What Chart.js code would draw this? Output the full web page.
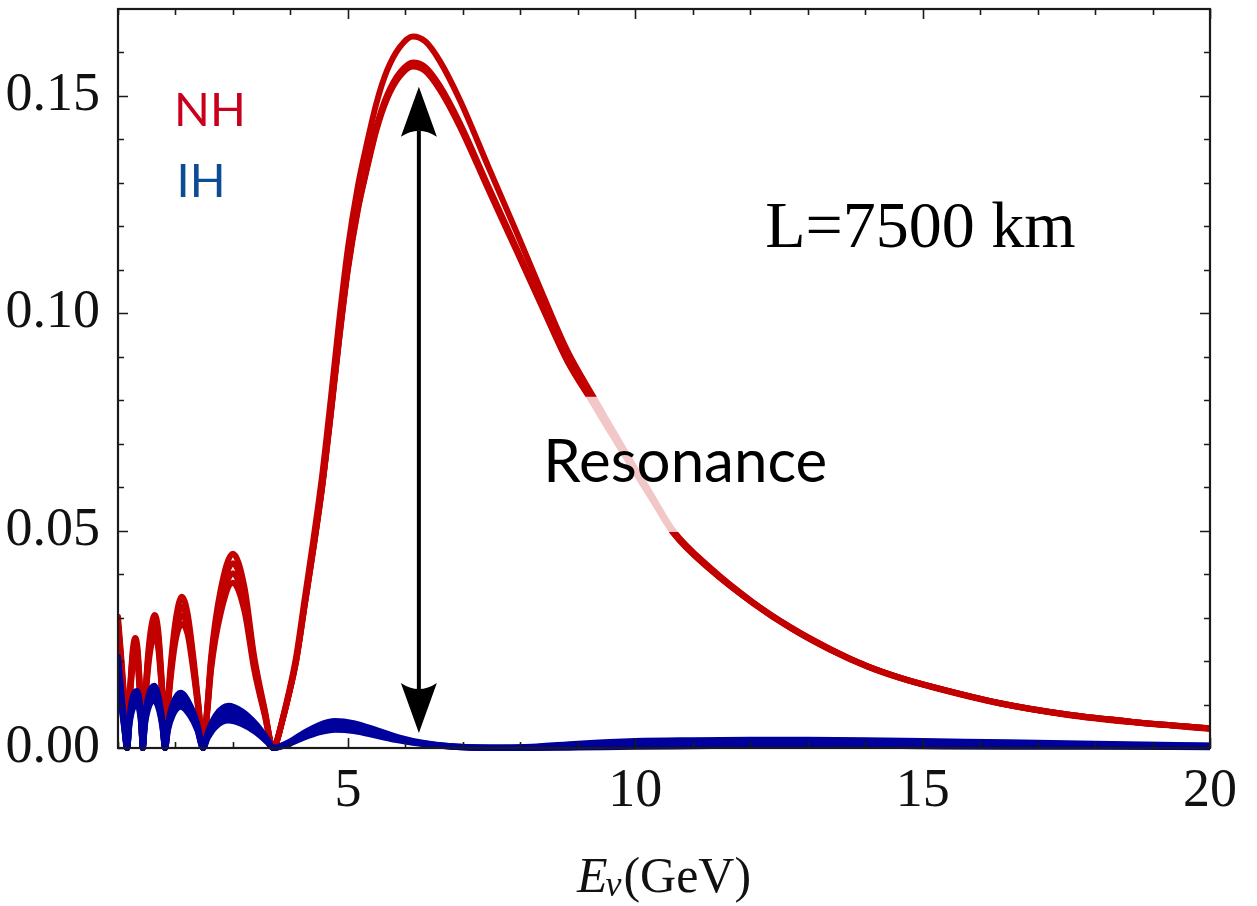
<!DOCTYPE html>
<html><head><meta charset="utf-8">
<script src="https://cdn.jsdelivr.net/npm/chart.js@4.4.0/dist/chart.umd.min.js"></script>
<style>html,body{margin:0;padding:0;background:#fff;}#wrap{width:1257px;height:906px;}</style>
</head><body><div id="wrap"><canvas id="c" width="1257" height="906"></canvas></div>
<script>
// ---- data ----
const E_NH = [1.00,1.05,1.10,1.16,1.19,1.23,1.26,1.30,1.34,1.37,1.40,1.43,
  1.47,1.52,1.58,1.64,1.70,1.75,1.79,1.82,
  1.87,1.93,2.01,2.11,2.21,2.31,2.40,2.48,
  2.55,2.62,2.78,3.00,3.20,3.37,3.55,3.70,
  3.76,3.85,3.95,4.10,
  4.25,4.40,4.55,4.70,4.85,5.00,5.17,5.33,5.50,5.68,5.90,6.13,6.35,6.60,6.95,7.45,7.94,8.40,8.81,9.27,9.90,10.30,10.66,
  11.30,12.05,12.70,13.39,14.04,14.60,15.19,16.35,17.52,18.67,20.00];
const NH_1 = [0.0302,0.0220,0.0130,0,0.0090,0.0180,0.0230,0.0253,0.0230,0.0170,0.0090,0,
  0.0110,0.0210,0.0280,0.0306,0.0270,0.0180,0.0090,0,
  0.0110,0.0210,0.0300,0.0348,0.0310,0.0210,0.0100,0,
  0.0090,0.0210,0.0360,0.0447,0.0370,0.0210,0.0090,0,
  0.0015,0.0060,0.0115,0.0210,
  0.0345,0.0480,0.0625,0.0800,0.0985,0.1150,0.1290,0.1390,0.1485,0.1558,0.1612,0.1637,0.1625,0.1580,0.1490,0.1335,0.1185,0.1040,0.0916,0.0808,0.0665,0.0578,0.0500,
  0.0415,0.0335,0.0278,0.0228,0.0188,0.0162,0.0140,0.0103,0.0077,0.0060,0.0045];
const NH_2 = [0.0290,0.0211,0.0125,0,0.0086,0.0172,0.0220,0.0240,0.0220,0.0163,0.0086,0,
  0.0105,0.0200,0.0266,0.0290,0.0257,0.0171,0.0086,0,
  0.0104,0.0199,0.0284,0.0325,0.0294,0.0199,0.0095,0,
  0.0086,0.0200,0.0343,0.0425,0.0352,0.0200,0.0086,0,
  0.0014,0.0058,0.0111,0.0202,
  0.0332,0.0462,0.0601,0.0770,0.0949,0.1108,0.1243,0.1339,0.1431,0.1501,0.1553,0.1577,0.1566,0.1523,0.1437,0.1290,0.1148,0.1013,0.0896,0.0794,0.0657,0.0573,0.0497,
  0.0413,0.0334,0.0277,0.0227,0.0188,0.0162,0.0140,0.0103,0.0077,0.0060,0.0045];
const NH_3 = [0.0280,0.0203,0.0120,0,0.0081,0.0163,0.0208,0.0230,0.0208,0.0154,0.0081,0,
  0.0099,0.0189,0.0252,0.0275,0.0243,0.0162,0.0081,0,
  0.0098,0.0188,0.0268,0.0305,0.0278,0.0188,0.0090,0,
  0.0081,0.0190,0.0325,0.0402,0.0333,0.0190,0.0081,0,
  0.0014,0.0058,0.0110,0.0201,
  0.0331,0.0460,0.0599,0.0767,0.0945,0.1104,0.1239,0.1335,0.1427,0.1497,0.1549,0.1572,0.1561,0.1518,0.1433,0.1287,0.1145,0.1011,0.0894,0.0793,0.0656,0.0572,0.0496,
  0.0412,0.0334,0.0277,0.0227,0.0188,0.0162,0.0140,0.0103,0.0077,0.0060,0.0045];
const NH_4 = [0.0270,0.0195,0.0115,0,0.0077,0.0154,0.0197,0.0220,0.0197,0.0145,0.0077,0,
  0.0094,0.0178,0.0238,0.0260,0.0230,0.0153,0.0077,0,
  0.0093,0.0177,0.0253,0.0285,0.0263,0.0178,0.0085,0,
  0.0077,0.0180,0.0306,0.0380,0.0315,0.0180,0.0077,0,
  0.0014,0.0057,0.0110,0.0200,
  0.0329,0.0458,0.0597,0.0764,0.0941,0.1100,0.1235,0.1331,0.1423,0.1493,0.1545,0.1568,0.1557,0.1514,0.1429,0.1283,0.1142,0.1009,0.0892,0.0792,0.0655,0.0571,0.0495,
  0.0411,0.0333,0.0276,0.0226,0.0187,0.0161,0.0139,0.0102,0.0076,0.0059,0.0044];

const E_IH = [1.00,1.05,1.10,1.16,
  1.20,1.25,1.33,1.38,1.41,1.43,
  1.47,1.53,1.63,1.71,1.77,1.82,
  1.87,1.95,2.09,2.25,2.38,2.48,
  2.56,2.70,2.92,3.15,3.40,3.60,3.70,
  3.95,4.20,4.50,4.78,5.10,5.50,5.90,6.30,6.80,7.50,8.20,9.00,10.00,11.00,12.00,13.00,14.00,15.00,16.50,18.00,20.00];
const IH_1 = [0.0210,0.0140,0.0070,0,
  0.0070,0.0115,0.0131,0.0105,0.0055,0,
  0.0070,0.0120,0.0143,0.0115,0.0065,0,
  0.0055,0.0100,0.0127,0.0100,0.0055,0,
  0.0035,0.0075,0.0097,0.0085,0.0055,0.0020,0,
  0.0012,0.0032,0.0053,0.0062,0.0057,0.0041,0.0024,0.0012,0.0004,0.0001,0.0003,0.0010,0.0016,0.0018,0.0019,0.0019,0.0018,0.0016,0.0013,0.0010,0.0006];
const IH_2 = [0.0195,0.0128,0.0064,0,
  0.0064,0.0105,0.0120,0.0096,0.0050,0,
  0.0064,0.0109,0.0130,0.0105,0.0059,0,
  0.0050,0.0091,0.0115,0.0091,0.0050,0,
  0.0031,0.0066,0.0085,0.0075,0.0048,0.0018,0,
  0.0010,0.0028,0.0047,0.0055,0.0050,0.0036,0.0021,0.0011,0.0004,0.0001,0.0002,0.0007,0.0012,0.0014,0.0015,0.0015,0.0014,0.0013,0.0010,0.0008,0.0005];
const IH_3 = [0.0180,0.0117,0.0058,0,
  0.0058,0.0096,0.0110,0.0088,0.0046,0,
  0.0059,0.0100,0.0120,0.0097,0.0054,0,
  0.0045,0.0083,0.0105,0.0083,0.0045,0,
  0.0027,0.0057,0.0074,0.0065,0.0042,0.0015,0,
  0.0009,0.0025,0.0041,0.0048,0.0044,0.0032,0.0019,0.0010,0.0003,0.0000,0.0001,0.0004,0.0007,0.0009,0.0010,0.0010,0.0009,0.0008,0.0007,0.0005,0.0003];
const IH_4 = [0.0165,0.0107,0.0053,0,
  0.0053,0.0087,0.0100,0.0080,0.0042,0,
  0.0054,0.0092,0.0110,0.0089,0.0050,0,
  0.0041,0.0075,0.0095,0.0075,0.0041,0,
  0.0023,0.0049,0.0063,0.0055,0.0036,0.0013,0,
  0.0008,0.0022,0.0036,0.0042,0.0039,0.0028,0.0017,0.0009,0.0003,0.0000,0.0000,0.0001,0.0003,0.0004,0.0005,0.0005,0.0005,0.0004,0.0003,0.0003,0.0002];

const X_TICKS = [5, 10, 15, 20];
const X_MINOR = [1,2,3,4,5,6,7,8,9,10,11,12,13,14,15,16,17,18,19,20];
const Y_TICKS = [0, 0.05, 0.10, 0.15];
const Y_MINOR = [0,0.01,0.02,0.03,0.04,0.05,0.06,0.07,0.08,0.09,0.10,0.11,0.12,0.13,0.14,0.15,0.16];
const X_RANGE = [1, 20];
const Y_RANGE = [0, 0.17];

// annotations (data coordinates)
const ARROW = {x: 6.235, yTop: 0.1521, yBottom: 0.00345};
const RES_BOX = {x0: 8.3, x1: 13.5, y0: 0.0497, y1: 0.0808};
const RES_TEXT = {text: 'Resonance', x: 10.87, y: 0.0656};
const L_TEXT = {text: 'L=7500 km', x: 14.96, y: 0.1153};
const NH_LABEL = {text: 'NH', x: 1.975, y: 0.1430};
const IH_LABEL = {text: 'IH', x: 2.02, y: 0.1268};

const RED = '#c20000', BLUE = '#00009c';

function series(xs, ys){
  if (xs.length !== ys.length) console.error('length mismatch', xs.length, ys.length);
  return xs.map((x,i)=>({x:x, y:ys[i]}));
}
function ds(xs, ys, color, order){
  return {data: series(xs, ys), borderColor: color, borderWidth: 6, pointRadius: 0,
    cubicInterpolationMode: 'monotone', fill: false, order: order,
    borderCapStyle: 'round', borderJoinStyle: 'round', clip: {left:0, right:0, top:0, bottom:3}};
}

const annot = {
  id: 'annot',
  afterDatasetsDraw(chart){
    const {ctx, scales:{x, y}} = chart;
    ctx.save();
    const bx0 = x.getPixelForValue(RES_BOX.x0), bx1 = x.getPixelForValue(RES_BOX.x1);
    const by0 = y.getPixelForValue(RES_BOX.y1), by1 = y.getPixelForValue(RES_BOX.y0);
    ctx.fillStyle = 'rgba(255,255,255,0.78)';
    ctx.fillRect(bx0, by0, bx1-bx0, by1-by0);
    ctx.fillStyle = '#000';
    ctx.font = '60px Lato';
    ctx.textAlign = 'center'; ctx.textBaseline = 'middle';
    ctx.fillText(RES_TEXT.text, x.getPixelForValue(RES_TEXT.x), y.getPixelForValue(RES_TEXT.y));
    ctx.font = '66px "Liberation Serif"';
    ctx.textBaseline = 'alphabetic';
    ctx.fillText(L_TEXT.text, x.getPixelForValue(L_TEXT.x), y.getPixelForValue(L_TEXT.y));
    ctx.textAlign = 'left';
    ctx.font = '47px Lato';
    ctx.fillStyle = '#c8001e';
    ctx.fillText(NH_LABEL.text, x.getPixelForValue(NH_LABEL.x), y.getPixelForValue(NH_LABEL.y));
    ctx.fillStyle = '#0b4c94';
    ctx.fillText(IH_LABEL.text, x.getPixelForValue(IH_LABEL.x), y.getPixelForValue(IH_LABEL.y));
    const ax = x.getPixelForValue(ARROW.x);
    const at = y.getPixelForValue(ARROW.yTop), ab = y.getPixelForValue(ARROW.yBottom);
    const hl = 50, hw = 18, notch = 6;
    ctx.strokeStyle = '#000'; ctx.fillStyle = '#000'; ctx.lineWidth = 4;
    ctx.beginPath(); ctx.moveTo(ax, at + hl - notch); ctx.lineTo(ax, ab - hl + notch); ctx.stroke();
    ctx.beginPath();
    ctx.moveTo(ax, at); ctx.lineTo(ax - hw, at + hl);
    ctx.quadraticCurveTo(ax, at + hl - 2*notch, ax + hw, at + hl); ctx.closePath(); ctx.fill();
    ctx.beginPath();
    ctx.moveTo(ax, ab); ctx.lineTo(ax - hw, ab - hl);
    ctx.quadraticCurveTo(ax, ab - hl + 2*notch, ax + hw, ab - hl); ctx.closePath(); ctx.fill();
    ctx.restore();
  },
  afterDraw(chart){
    const {ctx, chartArea:a, scales:{x, y}} = chart;
    ctx.save();
    ctx.strokeStyle = '#1a1a1a'; ctx.lineWidth = 1.6;
    ctx.beginPath();
    X_MINOR.forEach(v => {
      const px = Math.round(x.getPixelForValue(v)) + 0.5;
      const len = X_TICKS.includes(v) ? 10 : 6;
      ctx.moveTo(px, a.bottom); ctx.lineTo(px, a.bottom - len);
      ctx.moveTo(px, a.top); ctx.lineTo(px, a.top + len);
    });
    Y_MINOR.forEach(v => {
      const py = Math.round(y.getPixelForValue(v)) + 0.5;
      const len = Y_TICKS.some(t => Math.abs(t - v) < 1e-9) ? 10 : 6;
      ctx.moveTo(a.left, py); ctx.lineTo(a.left + len, py);
      ctx.moveTo(a.right, py); ctx.lineTo(a.right - len, py);
    });
    ctx.stroke();
    ctx.lineWidth = 2.2;
    ctx.strokeRect(a.left, a.top, a.right - a.left, a.bottom - a.top);
    const cx = (a.left + a.right) / 2, base = 892;
    const fMain = '50px "Liberation Serif"', fIt = 'italic 50px "Liberation Serif"', fSub = 'italic 36px "Liberation Serif"';
    ctx.fillStyle = '#111'; ctx.textBaseline = 'alphabetic'; ctx.textAlign = 'left';
    ctx.font = fIt; const wE = ctx.measureText('E').width;
    ctx.font = fSub; const wN = ctx.measureText('ν').width;
    ctx.font = fMain; const wG = ctx.measureText('(GeV)').width;
    let sx = cx - (wE + wN + wG) / 2;
    ctx.font = fIt; ctx.fillText('E', sx, base); sx += wE;
    ctx.font = fSub; ctx.fillText('ν', sx - 2, base + 4); sx += wN;
    ctx.font = fMain; ctx.fillText('(GeV)', sx, base);
    ctx.restore();
  }
};

new Chart(document.getElementById('c'), {
  type: 'line',
  data: {datasets: [
    ds(E_IH, IH_1, BLUE, 0), ds(E_IH, IH_2, BLUE, 0), ds(E_IH, IH_3, BLUE, 0), ds(E_IH, IH_4, BLUE, 0),
    ds(E_NH, NH_1, RED, 1), ds(E_NH, NH_2, RED, 1), ds(E_NH, NH_3, RED, 1), ds(E_NH, NH_4, RED, 1)
  ]},
  options: {
    responsive: false, animation: false, devicePixelRatio: 1,
    layout: {padding: {top: 9, right: 47, left: 0, bottom: 0}},
    plugins: {legend: {display: false}, tooltip: {enabled: false}},
    scales: {
      x: {type: 'linear', min: X_RANGE[0], max: X_RANGE[1],
        grid: {display: false}, border: {display: false},
        afterBuildTicks: s => { s.ticks = X_TICKS.map(v => ({value: v})); },
        afterFit: s => { s.height = 158; s.paddingLeft = 0; s.paddingRight = 0; },
        ticks: {padding: 3, color: '#111', font: {family: 'Liberation Serif', size: 54}, maxRotation: 0,
          callback: v => String(v)}},
      y: {type: 'linear', min: Y_RANGE[0], max: Y_RANGE[1],
        grid: {display: false}, border: {display: false},
        afterBuildTicks: s => { s.ticks = Y_TICKS.map(v => ({value: v})); },
        afterFit: s => { s.width = 118; s.paddingTop = 0; s.paddingBottom = 0; },
        ticks: {padding: 10, color: '#111', font: {family: 'Liberation Serif', size: 54},
          callback: v => Number(v).toFixed(2)}}
    }
  },
  plugins: [annot]
});
</script></body></html>
